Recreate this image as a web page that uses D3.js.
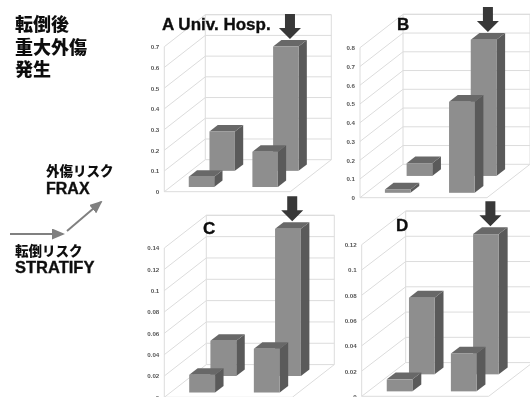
<!DOCTYPE html>
<html>
<head>
<meta charset="utf-8">
<script src="https://cdn.jsdelivr.net/npm/d3@7"></script>
<style>
    html, body { margin: 0; padding: 0; background: #fff; overflow: hidden; }
    svg { display: block; }
    .cjk { font-family: "Noto Sans CJK JP", sans-serif; font-weight: 900; fill: #111; }
    .latin { font-family: "Liberation Sans", Arial, sans-serif; font-weight: 700; fill: #111; stroke: #111; stroke-width: 0.35px; }
    .axis text { font-family: "Liberation Sans", Arial, sans-serif; font-weight: 700; font-size: 6.2px; fill: #555; }
</style>
</head>
<body>
<script>
// values, [left, right] for each row
const columns = ["low", "high"];
const rows = ["front", "back"];

const frontA = [0.05, 0.17];
const backA = [0.19, 0.6];
const frontB = [0.018, 0.485];
const backB = [0.068, 0.727];
const frontC = [0.0166, 0.041];
const backC = [0.033, 0.138];
const frontD = [0.0095, 0.03];
const backD = [0.0607, 0.111];

const ticksA = [0, 0.1, 0.2, 0.3, 0.4, 0.5, 0.6, 0.7];
const ticksB = [0, 0.1, 0.2, 0.3, 0.4, 0.5, 0.6, 0.7, 0.8];
const ticksC = [0, 0.02, 0.04, 0.06, 0.08, 0.1, 0.12, 0.14];
const ticksD = [0, 0.02, 0.04, 0.06, 0.08, 0.1, 0.12];

const titleLines = ["転倒後", "重大外傷", "発生"];

const width = 530;
const height = 397;

const svg = d3.select("body").append("svg")
    .attr("width", width)
    .attr("height", height);

// the reference is a soft, scaled-down photo of a slide
svg.append("filter").attr("id", "soft")
    .append("feGaussianBlur").attr("stdDeviation", 0.45);

const marker = svg.append("marker")
    .attr("id", "grey-head")
    .attr("viewBox", "0 0 13 11")
    .attr("refX", 11).attr("refY", 5.5)
    .attr("markerWidth", 6.5).attr("markerHeight", 5.5)
    .attr("orient", "auto");
marker.append("path").attr("d", "M0,0L13,5.5L0,11Z").attr("fill", "#808080");

const root = svg.append("g").attr("filter", "url(#soft)");

// background so the filter has the full area
root.append("rect").attr("width", width).attr("height", height).attr("fill", "#fff");

function drawPanel(p) {
    const g = root.append("g");
    const y = d3.scaleLinear().domain([0, p.ticks[p.ticks.length - 1]]).range([p.y0, p.yTop]);
    const x = d3.scaleBand().domain(columns).range([0, p.w]).paddingInner(0.6).paddingOuter(0.29);
    const z = d3.scaleBand().domain(rows).range([0, 1]).paddingInner(0.6).paddingOuter(0.29);

    const grid = "#dcdcdc";
    const line = (x1, y1, x2, y2) => g.append("line")
        .attr("x1", x1).attr("y1", y1).attr("x2", x2).attr("y2", y2)
        .attr("stroke", grid).attr("stroke-width", 1);

    // side wall and back wall lines for every tick
    p.ticks.forEach(t => {
        line(p.x0, y(t), p.x0 + p.dx, y(t) + p.dy);
        line(p.x0 + p.dx, y(t) + p.dy, p.x0 + p.dx + p.w, y(t) + p.dy);
    });
    line(p.x0, p.y0, p.x0, p.yTop);
    line(p.x0 + p.dx, p.y0 + p.dy, p.x0 + p.dx, p.yTop + p.dy);
    line(p.x0 + p.dx + p.w, p.y0 + p.dy, p.x0 + p.dx + p.w, p.yTop + p.dy);
    line(p.x0 + p.dx, p.yTop + p.dy, p.x0 + p.dx + p.w, p.yTop + p.dy);

    // floor
    line(p.x0, p.y0, p.x0 + p.w, p.y0);
    line(p.x0 + p.w, p.y0, p.x0 + p.w + p.dx, p.y0 + p.dy);

    const axis = d3.axisLeft(y)
        .tickValues(p.ticks)
        .tickSize(0)
        .tickPadding(5)
        .tickFormat(d3.format("~g"));
    g.append("g").attr("class", "axis")
        .attr("transform", `translate(${p.x0},0)`)
        .call(axis)
        .call(a => a.select(".domain").remove());

    // back row first so the front bars sit over it
    const sideX = z.bandwidth() * p.dx;
    const sideY = z.bandwidth() * p.dy;
    const bars = [];
    rows.slice().reverse().forEach(row => {
        const values = row === "front" ? p.front : p.back;
        columns.forEach((col, i) => bars.push({ row, col, value: values[i] }));
    });

    const bar = g.selectAll(".bar").data(bars).enter().append("g").attr("class", "bar");
    const shift = d => z(d.row) * p.dx;
    const lift = d => z(d.row) * p.dy;
    const left = d => p.x0 + x(d.col) + shift(d);
    const right = d => left(d) + x.bandwidth();

    bar.append("path")
        .attr("fill", "#5a5a5a")
        .attr("d", d => {
            const top = y(d.value) + lift(d);
            const base = y(0) + lift(d);
            return `M${right(d)},${top}L${right(d) + sideX},${top + sideY}L${right(d) + sideX},${base + sideY}L${right(d)},${base}Z`;
        });
    bar.append("path")
        .attr("fill", "#686868")
        .attr("d", d => {
            const top = y(d.value) + lift(d);
            return `M${left(d)},${top}L${left(d) + sideX},${top + sideY}L${right(d) + sideX},${top + sideY}L${right(d)},${top}Z`;
        });
    bar.append("rect")
        .attr("fill", "#8e8e8e")
        .attr("x", left)
        .attr("y", d => y(d.value) + lift(d))
        .attr("width", x.bandwidth())
        .attr("height", d => y(0) - y(d.value));

    // dark arrow pointing at the tallest bar
    const tallest = bars.find(d => d.row === "back" && d.col === "high");
    const tipX = left(tallest) + x.bandwidth() / 2 + sideX / 2;
    const tipY = y(tallest.value) + lift(tallest) + sideY - 1;
    g.append("path")
        .attr("fill", "#383838")
        .attr("d", `M${tipX},${tipY}l-11,-11h6v-14h10v14h6Z`);

    g.append("text")
        .attr("class", "latin")
        .attr("x", p.labelX)
        .attr("y", p.labelY)
        .attr("font-size", 17)
        .text(p.label);
}

drawPanel({ label: "A Univ. Hosp.", labelX: 162, labelY: 30,
    front: frontA, back: backA, ticks: ticksA,
    x0: 164.3, y0: 191.7, yTop: 46.7, dx: 41, dy: -32, w: 126 });
drawPanel({ label: "B", labelX: 397, labelY: 30,
    front: frontB, back: backB, ticks: ticksB,
    x0: 360, y0: 197.7, yTop: 47.7, dx: 43, dy: -33.4, w: 127 });
drawPanel({ label: "C", labelX: 203, labelY: 234,
    front: frontC, back: backC, ticks: ticksC,
    x0: 164.3, y0: 397.3, yTop: 248, dx: 42, dy: -32.7, w: 128 });
drawPanel({ label: "D", labelX: 396, labelY: 231,
    front: frontD, back: backD, ticks: ticksD,
    x0: 361.7, y0: 396.3, yTop: 244.7, dx: 44, dy: -33.7, w: 127 });

// 左側のテキスト
const titleY = [31, 54, 76];
titleLines.forEach((t, i) => {
    root.append("text").attr("class", "cjk")
        .attr("x", 15).attr("y", titleY[i])
        .attr("font-size", 18).text(t);
});

root.append("text").attr("class", "cjk").attr("x", 46).attr("y", 176).attr("font-size", 13.5).text("外傷リスク");
root.append("text").attr("class", "latin").attr("x", 46).attr("y", 194).attr("font-size", 16).text("FRAX");
root.append("text").attr("class", "cjk").attr("x", 15).attr("y", 256).attr("font-size", 13.5).text("転倒リスク");
root.append("text").attr("class", "latin").attr("x", 15).attr("y", 273).attr("font-size", 16.5).text("STRATIFY");

root.append("line")
    .attr("x1", 10).attr("y1", 234).attr("x2", 63).attr("y2", 234)
    .attr("stroke", "#808080").attr("stroke-width", 2)
    .attr("marker-end", "url(#grey-head)");
root.append("line")
    .attr("x1", 67).attr("y1", 231).attr("x2", 101).attr("y2", 202)
    .attr("stroke", "#808080").attr("stroke-width", 2)
    .attr("marker-end", "url(#grey-head)");
</script>
</body>
</html>
